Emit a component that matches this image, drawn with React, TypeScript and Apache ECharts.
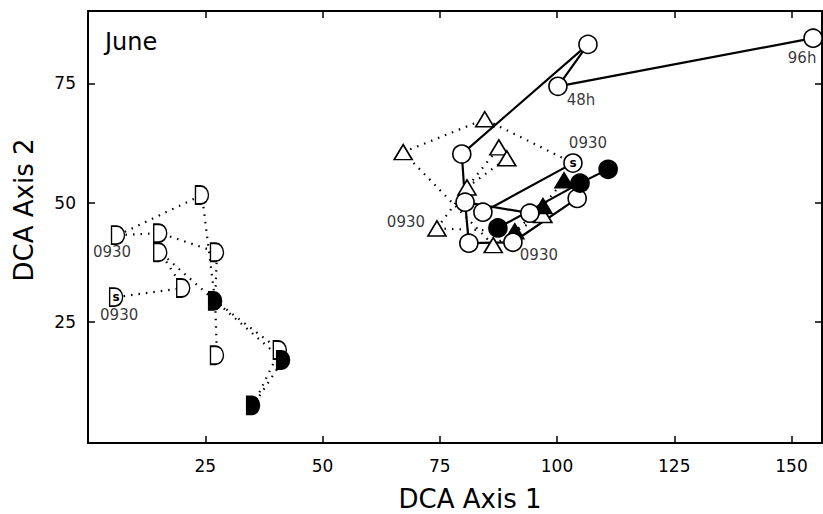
import React, { useEffect, useRef } from "react";
import * as echarts from "echarts";

// Point coordinates in DCA units (axis 1, axis 2)
const pts: Record<string, [number, number]> = {
  D1: [24.3, 51.6],
  D2: [6.4, 43.2],
  D3: [15.4, 43.6],
  D4: [15.4, 39.6],
  D5: [27.5, 39.6],
  D6: [20.3, 32.1],
  D7: [27.5, 18.0],
  D8: [40.9, 19.1],
  SD: [6.0, 30.2],
  F1: [27.1, 29.4],
  F2: [41.6, 17.0],
  F3: [35.2, 7.5],
  T1: [67.2, 60.6],
  T2: [84.6, 67.5],
  T3: [87.6, 61.6],
  T4: [89.3, 59.3],
  T5: [80.8, 53.2],
  T6: [74.4, 44.6],
  T7: [86.4, 41.1],
  T8: [97.0, 47.4],
  FT1: [101.5, 54.7],
  FT2: [97.0, 49.3],
  FT3: [91.0, 44.0],
  C1: [79.7, 60.2],
  C2: [80.4, 50.1],
  C3: [84.2, 48.0],
  C4: [94.2, 47.8],
  C5: [104.3, 50.9],
  C6: [81.2, 41.5],
  C7: [90.6, 41.7],
  C8: [106.6, 83.2],
  C9: [100.2, 74.4],
  C10: [154.6, 84.5],
  SC: [103.4, 58.3],
  FC1: [87.4, 44.7],
  FC2: [104.9, 54.1],
  FC3: [110.9, 57.0],
};

const openD = ["D1", "D2", "D3", "D4", "D5", "D6", "D7", "D8"];
const sampleD = ["SD"];
const filledD = ["F1", "F2", "F3"];
const openTri = ["T1", "T2", "T3", "T4", "T5", "T6", "T7", "T8"];
const filledTri = ["FT1", "FT2", "FT3"];
const openCircle = ["C1", "C2", "C3", "C4", "C5", "C6", "C7", "C8", "C9", "C10"];
const sampleCircle = ["SC"];
const filledCircle = ["FC1", "FC2", "FC3"];

const dottedPaths = [
  ["D2", "D1", "F1", "D7"],
  ["D2", "D3", "D5", "F1", "D8", "F3"],
  ["SD", "D6", "D4", "F1", "F2", "F3"],
  ["T1", "T2", "SC"],
  ["T1", "T7"],
  ["T6", "T5", "T3"],
  ["T5", "T4"],
  ["T6", "FT3", "FT2", "FT1"],
  ["T7", "T8"],
];

const solidPaths = [
  ["C8", "C1", "C2", "C6", "C7", "C5"],
  ["SC", "C3"],
  ["C2", "C4"],
  ["C8", "C9", "C10"],
  ["FC1", "FC2", "FC3"],
];

const annotationPoints = ["D2", "SD", "T6", "SC", "C7", "C9", "C10"];
const annotationTexts = ["0930", "0930", "0930", "0930", "0930", "48h", "96h"];

const xTicks = [25, 50, 75, 100, 125, 150];
const yTicks = [25, 50, 75];

const panelTitle = "June";
const xTitle = "DCA Axis 1";
const yTitle = "DCA Axis 2";

// styling
const labelOffsets: [number, number][] = [
  [-6, 17],
  [3, 18],
  [-31, -6],
  [15, -20],
  [26, 13],
  [23, 14],
  [-11, 20],
];
const FONT = "DejaVu Sans";
const D_PATH = "path://M0 0H6A9 9 0 0 1 6 18H0Z";

export default function App() {
  const ref = useRef<HTMLDivElement>(null);
  useEffect(() => {
    if (!ref.current) return;
    const chart = echarts.init(ref.current, null, { renderer: "svg" });

    const lineSeries = [
      ...dottedPaths.map((p) => ({
        type: "line",
        data: p.map((k) => pts[k]),
        symbol: "none",
        silent: true,
        z: 1,
        lineStyle: { color: "#000", width: 2.2, type: [1.5, 6], cap: "butt" },
      })),
      ...solidPaths.map((p) => ({
        type: "line",
        data: p.map((k) => pts[k]),
        symbol: "none",
        silent: true,
        z: 2,
        lineStyle: { color: "#000", width: 2.2, type: "solid" },
      })),
    ];

    const scatter = (
      keys: string[],
      symbol: string,
      size: number | number[],
      fill: string,
      inner?: string
    ) => ({
      type: "scatter",
      data: keys.map((k) => pts[k]),
      symbol,
      symbolSize: size,
      z: 3,
      silent: true,
      itemStyle: { color: fill, borderColor: "#000", borderWidth: 1.6, opacity: 1 },
      label: inner
        ? {
            show: true,
            position: "inside",
            formatter: inner,
            fontFamily: FONT,
            fontSize: 12,
            fontWeight: "bold",
            color: "#000",
          }
        : { show: false },
    });

    const labelSeries = {
      type: "scatter",
      z: 4,
      silent: true,
      symbolSize: 0.1,
      itemStyle: { color: "transparent" },
      data: annotationPoints.map((k, i) => ({
        value: pts[k],
        label: {
          show: true,
          position: "inside",
          offset: labelOffsets[i],
          formatter: annotationTexts[i],
          fontFamily: FONT,
          fontSize: 15,
          color: "#000",
        },
      })),
    };

    const axisCommon = {
      type: "value",
      splitLine: { show: false },
      axisLine: { show: true, onZero: false, lineStyle: { color: "#000", width: 2 } },
    };

    chart.setOption({
      animation: false,
      backgroundColor: "#fff",
      grid: { left: 88, right: 1, top: 11, bottom: 71, containLabel: false },
      xAxis: [
        {
          ...axisCommon,
          position: "bottom",
          min: 0,
          max: 156.5,
          axisTick: { show: true, inside: true, length: 7, customValues: xTicks, lineStyle: { color: "#000", width: 1.5 } },
          axisLabel: { show: true, customValues: xTicks, margin: 14, fontFamily: FONT, fontSize: 17, color: "#000" },
        },
        {
          ...axisCommon,
          position: "top",
          min: 0,
          max: 156.5,
          axisTick: { show: true, inside: true, length: 7, customValues: xTicks, lineStyle: { color: "#000", width: 1.5 } },
          axisLabel: { show: false },
        },
      ],
      yAxis: [
        {
          ...axisCommon,
          position: "left",
          min: -0.4,
          max: 90.2,
          axisTick: { show: true, inside: true, length: 7, customValues: yTicks, lineStyle: { color: "#000", width: 1.5 } },
          axisLabel: { show: true, customValues: yTicks, margin: 12, fontFamily: FONT, fontSize: 17, color: "#000" },
        },
        {
          ...axisCommon,
          position: "right",
          min: -0.4,
          max: 90.2,
          axisTick: { show: true, inside: true, length: 7, customValues: yTicks, lineStyle: { color: "#000", width: 1.5 } },
          axisLabel: { show: false },
        },
      ],
      graphic: [
        {
          type: "text",
          x: 105,
          y: 42,
          style: { text: panelTitle, font: `24px "${FONT}"`, fill: "#000", textAlign: "left", textVerticalAlign: "middle" },
        },
        {
          type: "text",
          x: 470,
          y: 499,
          style: { text: xTitle, font: `26px "${FONT}"`, fill: "#000", textAlign: "center", textVerticalAlign: "middle" },
        },
        {
          type: "text",
          x: 24,
          y: 210,
          rotation: Math.PI / 2,
          style: { text: yTitle, font: `26px "${FONT}"`, fill: "#000", textAlign: "center", textVerticalAlign: "middle" },
        },
      ],
      series: [
        ...lineSeries,
        scatter(openD, D_PATH, [13, 18], "#fff"),
        scatter(sampleD, D_PATH, [13, 18], "#fff", "s"),
        scatter(filledD, D_PATH, [13, 18], "#000"),
        scatter(openTri, "triangle", [18, 15], "#fff"),
        scatter(filledTri, "triangle", [18, 15], "#000"),
        scatter(openCircle, "circle", 18, "#fff"),
        scatter(sampleCircle, "circle", 18, "#fff", "s"),
        scatter(filledCircle, "circle", 18, "#000"),
        labelSeries,
      ],
    });
    return () => chart.dispose();
  }, []);

  return (
    <div
      ref={ref}
      style={{ position: "fixed", left: 0, top: 0, width: 823, height: 514, background: "#fff" }}
    />
  );
}
